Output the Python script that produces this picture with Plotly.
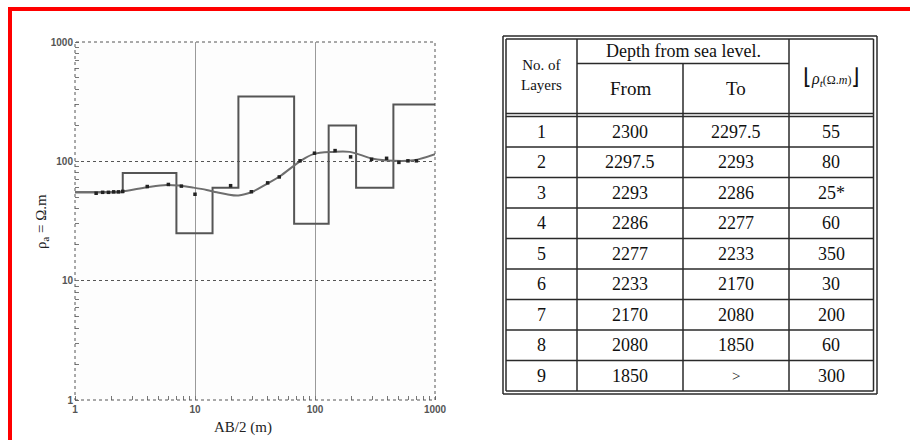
import plotly.graph_objects as go

# ---------------- data ----------------
layer_no = ["1", "2", "3", "4", "5", "6", "7", "8", "9"]
depth_from = ["2300", "2297.5", "2293", "2286", "2277", "2233", "2170", "2080", "1850"]
depth_to = ["2297.5", "2293", "2286", "2277", "2233", "2170", "2080", "1850", ">"]
rho_true = [55, 80, 25, 60, 350, 30, 200, 60, 300]
rho_label = ["55", "80", "25*", "60", "350", "30", "200", "60", "300"]
surface_level = 2300

# smooth apparent resistivity curve
curve_x = [1, 1.5, 2.4, 4, 5.8, 7.5, 9.7, 12.5, 15.2, 18.4, 23, 30, 40, 51, 75, 97, 142, 195, 305, 450, 660, 1000]
curve_y = [55, 55, 55.7, 60.7, 63.4, 62.5, 60.2, 57.6, 55, 53, 51.8, 55.6, 65, 75, 100, 115, 120, 120, 105, 101, 102, 115]

# field measurements
obs_x = [1.5, 1.7, 1.9, 2.1, 2.3, 2.5, 4.0, 6.0, 7.7, 10, 19.8, 29.5, 40.3, 50.4, 75, 99, 147, 198, 296, 395, 500, 595, 700]
obs_y = [54, 55, 55, 55.5, 55.5, 56, 61.5, 64, 62, 53, 62.5, 55.6, 66, 74, 101, 117, 123, 109, 104, 106, 98, 101, 101]

x_tick_vals = [1, 10, 100, 1000]
x_tick_text = ["1", "10", "100", "1000"]
y_tick_vals = [1, 10, 100, 1000]
y_tick_text = ["1", "10", "100", "1000"]

# step model from the table (layer bottoms = surface - "To")
bottoms = [surface_level - float(t) for t in depth_to[:-1]]
step_x = [1] + bottoms + [1000]
step_y = rho_true + [rho_true[-1]]

W, H = 910, 440
def px(x):
    return x / W
def py(y):
    return 1 - y / H

SERIF = "Liberation Serif, Times New Roman, serif"

fig = go.Figure()

fig.add_trace(go.Scatter(x=step_x, y=step_y, mode="lines", line=dict(shape="hv", color="#555555", width=2),
                         showlegend=False, hoverinfo="skip"))
fig.add_trace(go.Scatter(x=curve_x, y=curve_y, mode="lines", line=dict(shape="spline", smoothing=1.0, color="#6e6e6e", width=2),
                         showlegend=False))
fig.add_trace(go.Scatter(x=obs_x, y=obs_y, mode="markers", marker=dict(symbol="square", size=3.5, color="#222222"),
                         showlegend=False))

plot_l, plot_r, plot_t, plot_b = 75, 435, 42, 400

axis_common = dict(type="log", range=[0, 3], showline=False, zeroline=False, automargin=False,
                   ticks="", mirror="ticks",
                   tickfont=dict(family="Liberation Sans", size=10, color="#555555", weight="bold"),
                   minor=dict(ticks="inside", ticklen=4, tickcolor="#777777", tickwidth=1, dtick="D1", showgrid=False))

fig.update_layout(
    width=W, height=H, autosize=False,
    margin=dict(l=0, r=0, t=0, b=0, pad=0),
    paper_bgcolor="white", plot_bgcolor="#fdfdfd",
    xaxis=dict(**axis_common, domain=[px(plot_l), px(plot_r)],
               tickvals=x_tick_vals, ticktext=x_tick_text,
               showgrid=True, gridcolor="#9a9a9a", gridwidth=1, griddash="solid", ticklabelstandoff=2),
    yaxis=dict(**axis_common, domain=[py(plot_b), py(plot_t)],
               tickvals=y_tick_vals, ticktext=y_tick_text,
               showgrid=True, gridcolor="#555555", gridwidth=1, griddash="dot", ticklabelstandoff=1),
)

shapes = []
# dotted frame of plot
shapes.append(dict(type="rect", xref="x domain", yref="y domain", x0=0, x1=1, y0=0, y1=1,
                   line=dict(color="#555555", width=1, dash="dot"), layer="above"))
# red border (top & left)
shapes.append(dict(type="line", xref="paper", yref="paper", x0=px(8), x1=px(912), y0=py(9), y1=py(9),
                   line=dict(color="#ff0000", width=4)))
shapes.append(dict(type="line", xref="paper", yref="paper", x0=px(10), x1=px(10), y0=py(7), y1=py(442),
                   line=dict(color="#ff0000", width=4)))

# ---------------- table ----------------
tc = "#2a2a2a"
def hline(x0, x1, y, w=1.5):
    shapes.append(dict(type="line", xref="paper", yref="paper", x0=px(x0), x1=px(x1), y0=py(y), y1=py(y),
                       line=dict(color=tc, width=w)))
def vline(x, y0, y1, w=1.5):
    shapes.append(dict(type="line", xref="paper", yref="paper", x0=px(x), x1=px(x), y0=py(y0), y1=py(y1),
                       line=dict(color=tc, width=w)))

oL, oR, oT, oB = 503, 877, 36, 394
iL, iR, iT, iB = 506, 873.5, 39, 391
col_x = [iL, 577, 683, 789, iR]
hdr1 = 63.5
hdr_a, hdr_b = 113.5, 116.5
row_h = (iB - hdr_b) / 9.0

for (l, r, t, b) in [(oL, oR, oT, oB), (iL, iR, iT, iB)]:
    hline(l, r, t); hline(l, r, b); vline(l, t, b); vline(r, t, b)
vline(col_x[1], iT, iB)
vline(col_x[3], iT, iB)
vline(col_x[2], hdr1, iB)
hline(col_x[1], col_x[3], hdr1)
hline(iL, iR, hdr_a)
hline(iL, iR, hdr_b)
for i in range(1, 9):
    hline(iL, iR, hdr_b + i * row_h)

annotations = []
def txt(x, y, s, size=18, **kw):
    annotations.append(dict(x=px(x), y=py(y), xref="paper", yref="paper", text=s, showarrow=False,
                            font=dict(family=SERIF, size=size, color="#111111"),
                            xanchor="center", yanchor="middle", **kw))

centers = [(col_x[i] + col_x[i + 1]) / 2 for i in range(4)]
txt(centers[0], 75, "No. of<br>Layers", size=15)
txt((col_x[1] + col_x[3]) / 2, 51, "Depth from sea level.", size=18)
txt(centers[1], 88.5, "From", size=19)
txt(centers[2], 88.5, "To", size=19)
txt(centers[3], 76, "<span style='font-size:22px'>⌊</span><i>ρ</i><sub><i>t</i></sub><span style='font-size:12px'>(Ω.<i>m</i>)</span><span style='font-size:22px'>⌋</span>", size=16)

for i in range(9):
    yc = hdr_b + (i + 0.5) * row_h
    txt(centers[0], yc, layer_no[i])
    txt(centers[1], yc, depth_from[i])
    txt(centers[2], yc, depth_to[i], size=18 if depth_to[i] != ">" else 15)
    txt(centers[3], yc, rho_label[i])

annotations.append(dict(x=px(42), y=py(222), xref="paper", yref="paper", text="ρ<sub>a</sub> = Ω.m", showarrow=False,
                        textangle=-90, font=dict(family=SERIF, size=15, color="#222222"),
                        xanchor="center", yanchor="middle"))
annotations.append(dict(x=px(243), y=py(427), xref="paper", yref="paper", text="AB/2 (m)", showarrow=False,
                        font=dict(family=SERIF, size=15, color="#222222"),
                        xanchor="center", yanchor="middle"))

fig.update_layout(shapes=shapes, annotations=annotations)

fig.write_html("out.html", config={"displayModeBar": False},
               post_script="document.body.style.margin='0';")
